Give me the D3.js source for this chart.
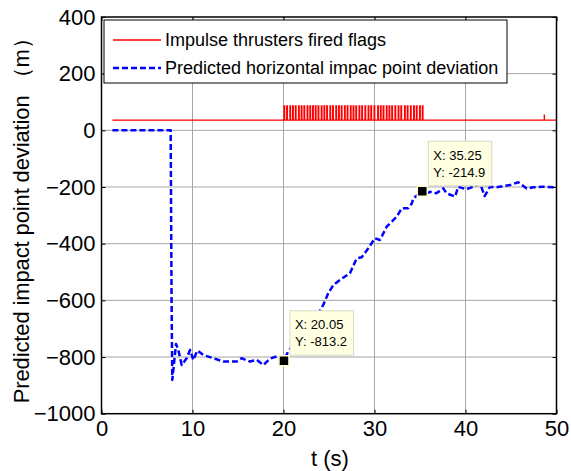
<!DOCTYPE html>
<html>
<head>
<meta charset="utf-8">
<script src="https://cdn.jsdelivr.net/npm/d3@7"></script>
<style>
  body { margin: 0; background: #fff; }
  text { font-family: "Liberation Sans", Arial, sans-serif; }
</style>
</head>
<body>
<svg id="chart" width="571" height="471"></svg>
<script>
// predicted horizontal impact point deviation
const devT = [1.2, 7.6, 7.7, 7.78, 8.19, 8.44, 8.81, 9.36, 9.73, 10.09, 10.53, 11.19, 12.29, 13.38, 14.86, 15.4, 16.3, 17.05, 17.8, 18.5, 19.25, 20.05,
  20.5, 21.5, 22.5, 23.5, 24.37, 24.92, 25.47, 26.2, 27.3, 28.04, 28.6, 29.32, 30.05, 30.6, 31.34, 31.9, 32.44, 33.0, 33.7, 34.1, 34.27, 35.25,
  35.5, 35.8, 36.1, 36.8, 37.56, 37.9, 38.85, 39.2, 40.1, 40.85, 41.6, 42.1, 42.7, 43.4, 44.15, 44.9, 45.8, 46.73, 47.45, 48.55, 50];
const devY = [0, 0, -600, -881, -754, -775, -828, -804, -775, -810, -777, -793, -804, -816, -816, -804, -816, -810, -828, -806, -798, -813.2,
  -781, -740, -700, -665, -616, -575, -546, -528, -504, -452, -448, -416, -381, -387, -340, -322, -305, -275, -275, -258, -240, -214.9,
  -205, -222, -217, -222, -205, -222, -234, -199, -208, -199, -187, -232, -199, -201, -197, -193, -183, -205, -201, -199, -201];

// thruster fired flags: baseline level, pulse level, pulse start times
const flagBase = 36;
const flagHigh = 86;
const flagStart = 1.2;
const flagEnd = 50;
const pulseTimes = [20.05, 20.35, 20.7, 21.0, 21.3, 21.65, 21.95, 22.25, 22.6, 22.9, 23.2, 23.5, 23.8, 24.15, 24.45, 24.75,
  25.1, 25.4, 25.75, 26.05, 26.35, 26.7, 27.0, 27.35, 27.65, 27.95, 28.3, 28.6, 28.95, 29.3, 29.6, 29.95,
  30.35, 30.65, 30.95, 31.3, 31.6, 31.9, 32.25, 32.6, 32.9, 33.3, 33.6, 33.95, 34.3, 34.6, 34.95, 35.25];
const pulseWidth = 0.08;
const lateSpike = {t: 48.65, v: 54};

const xTicks = [0, 10, 20, 30, 40, 50];
const yTicks = [-1000, -800, -600, -400, -200, 0, 200, 400];

const dataTips = [
  {t: 20.05, v: -813.2, label: ["X: 20.05", "Y: -813.2"]},
  {t: 35.25, v: -214.9, label: ["X: 35.25", "Y: -214.9"]}
];

const legendItems = [
  {name: "Impulse thrusters fired flags", color: "#ff0000", dash: "none", width: 1.5},
  {name: "Predicted horizontal impac point deviation", color: "#0000ff", dash: "6,3", width: 2.5}
];

const margin = {top: 17, right: 14.5, bottom: 57.3, left: 101.5};
const width = 571, height = 471;

const svg = d3.select("#chart");

const x = d3.scaleLinear().domain([0, 50]).range([margin.left, width - margin.right]);
const y = d3.scaleLinear().domain([-1000, 400]).range([height - margin.bottom, margin.top]);

// grid
svg.append("g")
  .selectAll("line")
  .data(xTicks.slice(1, -1))
  .join("line")
    .attr("x1", d => x(d)).attr("x2", d => x(d))
    .attr("y1", y(400)).attr("y2", y(-1000))
    .attr("stroke", "#a6a6a6").attr("stroke-width", 1);
svg.append("g")
  .selectAll("line")
  .data(yTicks.slice(1, -1))
  .join("line")
    .attr("x1", x(0)).attr("x2", x(50))
    .attr("y1", d => y(d)).attr("y2", d => y(d))
    .attr("stroke", "#a6a6a6").attr("stroke-width", 1);

// flags line
const flagPts = [[flagStart, flagBase]];
pulseTimes.forEach(t => {
  flagPts.push([t, flagBase], [t, flagHigh], [t + pulseWidth, flagHigh], [t + pulseWidth, flagBase]);
});
flagPts.push([lateSpike.t, flagBase], [lateSpike.t, lateSpike.v], [lateSpike.t + 0.02, lateSpike.v], [lateSpike.t + 0.02, flagBase]);
flagPts.push([flagEnd, flagBase]);

const line = d3.line().x(d => x(d[0])).y(d => y(d[1]));

svg.append("path")
  .datum(flagPts)
  .attr("fill", "none")
  .attr("stroke", "#ff0000")
  .attr("stroke-width", 1.2)
  .attr("d", line);

// deviation line
svg.append("path")
  .datum(devT.map((t, i) => [t, devY[i]]))
  .attr("fill", "none")
  .attr("stroke", "#0000ff")
  .attr("stroke-width", 2.5)
  .attr("stroke-dasharray", "6,3")
  .attr("stroke-linejoin", "round")
  .attr("d", line);

// axes (ticks inside, mirrored on top and right)
const tickFont = g => g.selectAll("text")
  .attr("font-size", 22).attr("fill", "#000")
  .style("font-family", "'Liberation Sans', Arial, sans-serif");

svg.append("g")
  .attr("transform", `translate(0,${y(-1000)})`)
  .call(d3.axisBottom(x).tickValues(xTicks).tickSize(-4).tickPadding(6).tickSizeOuter(0))
  .call(tickFont)
  .call(g => g.selectAll("text").attr("dy", "0.72em"))
  .call(g => g.select(".domain").remove());
svg.append("g")
  .attr("transform", `translate(${x(0)},0)`)
  .call(d3.axisLeft(y).tickValues(yTicks).tickFormat(d3.format("d")).tickSize(-4).tickPadding(6).tickSizeOuter(0))
  .call(tickFont)
  .call(g => g.select(".domain").remove());
svg.append("g")
  .attr("transform", `translate(0,${y(400)})`)
  .call(d3.axisTop(x).tickValues(xTicks).tickSize(-4).tickFormat(""))
  .call(g => g.select(".domain").remove());
svg.append("g")
  .attr("transform", `translate(${x(50)},0)`)
  .call(d3.axisRight(y).tickValues(yTicks).tickSize(-4).tickFormat(""))
  .call(g => g.select(".domain").remove());

svg.append("rect")
  .attr("x", x(0)).attr("y", y(400))
  .attr("width", x(50) - x(0)).attr("height", y(-1000) - y(400))
  .attr("fill", "none").attr("stroke", "#000").attr("stroke-width", 1.5);

// axis titles
svg.append("text")
  .attr("x", (x(0) + x(50)) / 2 + 1).attr("y", 466)
  .attr("text-anchor", "middle").attr("font-size", 22)
  .text("t (s)");
svg.append("text")
  .attr("transform", `translate(29,${(y(400) + y(-1000)) / 2}) rotate(-90)`)
  .attr("text-anchor", "middle").attr("font-size", 22)
  .attr("textLength", 376).attr("lengthAdjust", "spacing")
  .text("Predicted  impact point deviation （m）");

// legend
const lg = svg.append("g");
lg.append("rect")
  .attr("x", 104).attr("y", 20).attr("width", 403).attr("height", 63)
  .attr("fill", "#fff").attr("stroke", "#000").attr("stroke-width", 1);
legendItems.forEach((d, i) => {
  const ly = 40 + i * 28;
  lg.append("line")
    .attr("x1", 113).attr("x2", 161).attr("y1", ly).attr("y2", ly)
    .attr("stroke", d.color).attr("stroke-width", d.width)
    .attr("stroke-dasharray", d.dash);
  lg.append("text")
    .attr("x", 165).attr("y", ly).attr("dy", "0.35em")
    .attr("font-size", 18)
    .text(d.name);
});

// data tips
dataTips.forEach(d => {
  const px = x(d.t), py = y(d.v);
  const g = svg.append("g");
  g.append("rect")
    .attr("x", px + 6).attr("y", py - 50).attr("width", 63.5).attr("height", 44.5)
    .attr("fill", "#ffffe1").attr("stroke", "#d9d9c8").attr("stroke-width", 1);
  d.label.forEach((s, j) => {
    g.append("text")
      .attr("x", px + 11).attr("y", py - 36 + j * 17).attr("dy", "0.35em")
      .attr("font-size", 13)
      .text(s);
  });
  g.append("rect")
    .attr("x", px - 5).attr("y", py - 5).attr("width", 10).attr("height", 10)
    .attr("fill", "#000").attr("stroke", "#ffffd0").attr("stroke-width", 1.5);
});
</script>
</body>
</html>
